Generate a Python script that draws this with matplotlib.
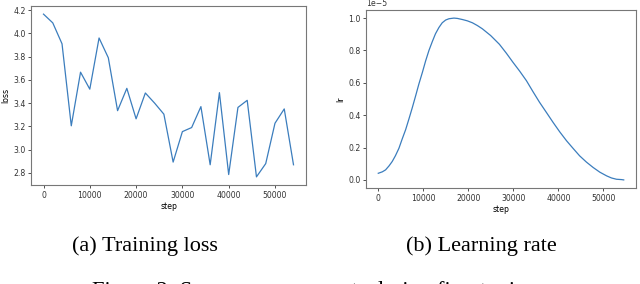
"""
training loss / learning rate figure
"""
import matplotlib
matplotlib.use("Agg")
import matplotlib.pyplot as plt

# training loss, logged every 2000 steps
loss_steps = [0, 2000, 4000, 6000, 8000, 10000, 12000, 14000, 16000, 18000,
              20000, 22000, 24000, 26000, 28000, 30000, 32000, 34000, 36000,
              38000, 40000, 42000, 44000, 46000, 48000, 50000, 52000, 54000]
loss = [4.165, 4.09, 3.91, 3.205, 3.666, 3.52, 3.96, 3.79, 3.335, 3.527,
        3.265, 3.487, 3.40, 3.305, 2.893, 3.155, 3.19, 3.37, 2.87,
        3.49, 2.786, 3.363, 3.424, 2.766, 2.88, 3.227, 3.35, 2.87]

# learning rate (units of 1e-5)
lr_steps = [0, 900, 1620, 2400, 3100, 3800, 4580, 5300, 6070, 6800, 7550,
            8300, 9020, 9800, 10510, 11250, 12000, 12700, 13470, 14200,
            14960, 15700, 16800, 17560, 18700, 19780, 20900, 22000, 23100,
            24960, 26900, 28440, 29900, 31400, 32900, 34360, 35800, 37330,
            38800, 40290, 41800, 43250, 44700, 46220, 47700, 49180, 50700,
            51780, 52900, 54000, 54500]
lr = [0.041, 0.05, 0.062, 0.087, 0.114, 0.149, 0.195, 0.252, 0.31, 0.376,
      0.446, 0.52, 0.593, 0.665, 0.735, 0.80, 0.855, 0.903, 0.942, 0.971,
      0.988, 0.996, 1.0, 0.998, 0.991, 0.983, 0.971, 0.954, 0.934,
      0.892, 0.838, 0.783, 0.727, 0.672, 0.613, 0.545, 0.48, 0.417,
      0.356, 0.297, 0.242, 0.195, 0.149, 0.11, 0.077, 0.048, 0.025,
      0.012, 0.004, 0.002, 0.0]

captions = ["(a) Training loss", "(b) Learning rate"]
fig_caption = "Figure 2: Some measurements during fine-tuning."

line_color = "#3b7dbd"
tick_size = 5.6

fig = plt.figure(figsize=(6.4, 2.84), dpi=100)
ax1 = fig.add_axes([31/640, 1 - 185/284, 275/640, 179/284])
ax2 = fig.add_axes([366/640, 1 - 188/284, 270/640, 178/284])

ax1.plot(loss_steps, loss, color=line_color, lw=0.9)
ax1.set_xlabel("step", fontsize=tick_size, labelpad=1.5)
ax1.set_ylabel("loss", fontsize=tick_size, labelpad=2)
ax1.set_xticks([0, 10000, 20000, 30000, 40000, 50000])

ax2.plot(lr_steps, [v * 1e-5 for v in lr], color=line_color, lw=0.9)
ax2.set_xlabel("step", fontsize=tick_size, labelpad=1.5)
ax2.set_ylabel("lr", fontsize=tick_size, labelpad=2)
ax2.set_xticks([0, 10000, 20000, 30000, 40000, 50000])
ax2.set_yticks([0, 0.2e-5, 0.4e-5, 0.6e-5, 0.8e-5, 1.0e-5])

for ax in (ax1, ax2):
    ax.tick_params(labelsize=tick_size, length=2.5, width=0.6,
                   pad=1.5, colors="#333333")
    for sp in ax.spines.values():
        sp.set_linewidth(0.8)
        sp.set_color("#777777")
    ax.yaxis.get_offset_text().set_fontsize(tick_size)

fig.text(145/640, 1 - 251/284, captions[0], ha="center", va="baseline",
         fontsize=16, family="Liberation Serif")
fig.text(481/640, 1 - 251/284, captions[1], ha="center", va="baseline",
         fontsize=16, family="Liberation Serif")
# caption of the page, only its top edge falls inside the crop
fig.text(92/640, 1 - 297/284, fig_caption, ha="left", va="baseline",
         fontsize=16.3, family="Liberation Serif")

fig.savefig("out.png", dpi=100)
